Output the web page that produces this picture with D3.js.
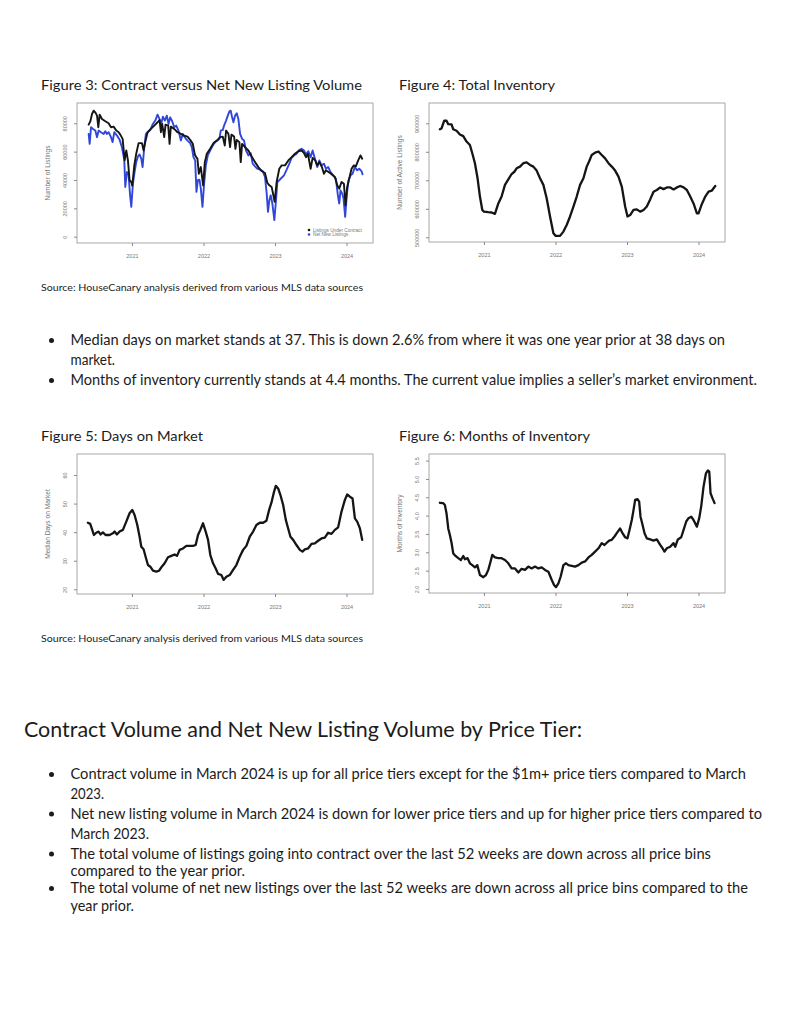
<!DOCTYPE html>
<html><head><meta charset="utf-8">
<script src="https://cdn.jsdelivr.net/npm/d3@7"></script>
<style>body{margin:0;background:#fff;} svg{display:block;}</style>
</head><body><svg id="page" width="800" height="1035"></svg>
<script>
// ---------------- DATA ----------------
const yearTicks = [2021, 2022, 2023, 2024];

const contractYears = [2020.395,2020.419,2020.442,2020.465,2020.488,2020.512,2020.530,2020.549,2020.581,2020.628,
2020.674,2020.707,2020.744,2020.781,2020.814,2020.837,2020.870,2020.898,2020.921,2020.944,
2020.967,2020.991,2021.005,2021.033,2021.060,2021.093,2021.140,2021.163,2021.186,2021.219,
2021.265,2021.312,2021.358,2021.386,2021.405,2021.423,2021.451,2021.470,2021.507,2021.526,
2021.544,2021.591,2021.637,2021.684,2021.730,2021.777,2021.814,2021.851,2021.879,2021.898,
2021.916,2021.935,2021.963,2021.995,2022.019,2022.047,2022.093,2022.140,2022.186,2022.233,
2022.270,2022.298,2022.316,2022.349,2022.372,2022.391,2022.428,2022.447,2022.465,2022.502,
2022.521,2022.540,2022.581,2022.628,2022.674,2022.721,2022.767,2022.814,2022.860,2022.893,
2022.921,2022.953,2022.977,2022.995,2023.023,2023.060,2023.093,2023.140,2023.186,2023.233,
2023.279,2023.326,2023.372,2023.405,2023.433,2023.460,2023.498,2023.526,2023.563,2023.591,
2023.619,2023.656,2023.684,2023.712,2023.749,2023.791,2023.837,2023.870,2023.898,2023.930,
2023.963,2023.986,2024.009,2024.037,2024.070,2024.102,2024.130,2024.163,2024.195,2024.219];
const contractVals = [79050,81400,86550,88900,87700,85400,77200,86100,83000,81400,
80000,77200,77650,74850,73700,72000,69000,53800,60800,53800,
39800,38600,36000,50300,58500,66000,66000,60800,66700,73700,
76000,78350,80700,82300,73700,79500,70200,79000,78350,65500,
77650,76000,73700,72500,71300,70600,68300,65500,58000,56100,
55000,44400,49100,36250,52600,58500,62000,66000,67800,70200,
70600,64300,74850,72500,63150,72000,70600,62000,68300,66700,
52600,65500,63150,60800,56600,52600,49100,46300,44900,37900,
36250,35100,29200,24600,38600,47950,50300,50300,53800,56100,
58500,60300,60800,58900,56100,58500,47950,55600,53800,50300,
52600,49100,44400,46800,45600,44000,42100,36250,33900,38600,
37400,22200,35100,40900,47950,50300,49600,53800,57300,55000];

const netNewYears = [2020.395,2020.409,2020.428,2020.456,2020.488,2020.512,2020.535,2020.567,2020.605,2020.628,
2020.651,2020.674,2020.707,2020.730,2020.753,2020.791,2020.828,2020.860,2020.893,2020.907,
2020.930,2020.953,2020.972,2020.991,2021.014,2021.037,2021.060,2021.084,2021.107,2021.130,
2021.149,2021.172,2021.195,2021.219,2021.256,2021.293,2021.326,2021.358,2021.386,2021.409,
2021.433,2021.460,2021.488,2021.512,2021.535,2021.563,2021.591,2021.619,2021.651,2021.684,
2021.712,2021.744,2021.777,2021.814,2021.837,2021.860,2021.884,2021.902,2021.921,2021.944,
2021.963,2021.986,2022.009,2022.033,2022.060,2022.093,2022.130,2022.163,2022.195,2022.223,
2022.242,2022.270,2022.288,2022.316,2022.340,2022.363,2022.381,2022.400,2022.419,2022.442,
2022.465,2022.488,2022.512,2022.540,2022.567,2022.595,2022.628,2022.660,2022.688,2022.721,
2022.753,2022.791,2022.828,2022.860,2022.884,2022.902,2022.921,2022.940,2022.963,2022.991,
2023.014,2023.033,2023.060,2023.093,2023.126,2023.163,2023.200,2023.233,2023.265,2023.302,
2023.340,2023.372,2023.405,2023.433,2023.465,2023.498,2023.526,2023.558,2023.591,2023.619,
2023.651,2023.684,2023.712,2023.744,2023.777,2023.814,2023.851,2023.879,2023.898,2023.916,
2023.940,2023.958,2023.981,2024.005,2024.028,2024.056,2024.084,2024.116,2024.149,2024.177,
2024.209,2024.223];
const netNewVals = [72500,65500,77200,76000,74850,70200,74850,73700,72500,74400,
72500,73700,70200,66700,73700,71300,68300,63150,54300,35100,
45600,44000,30400,21000,37400,45600,52600,56600,58000,55000,
49100,63150,72500,73700,75300,79500,81900,86100,83000,79500,
84700,81900,85400,79500,84200,81400,77200,78350,74850,67800,
72500,69700,67800,66000,63150,56100,53800,31600,39800,40200,
33900,21000,37400,50300,57300,60800,64300,66700,67800,69000,
74850,75300,78350,81900,85400,88400,88900,84200,80700,85400,
87000,83000,72500,69000,67800,60800,57300,58900,51500,49600,
47950,47250,46300,42100,30400,17500,25700,29200,23400,11700,
25700,38600,39800,41600,43300,47250,51500,55700,57300,58500,
61300,62000,60800,58000,60300,56100,60800,55000,49100,53800,
50300,51500,47950,49100,45600,43300,40900,29200,23400,32700,
30400,26900,14000,30400,39800,43300,44400,49100,46800,47950,
46300,44000];

const inventoryYears = [2020.384,2020.407,2020.445,2020.477,2020.501,2020.547,2020.571,2020.617,2020.664,2020.711,
2020.757,2020.804,2020.837,2020.874,2020.911,2020.944,2020.977,2021.000,2021.061,2021.107,
2021.154,2021.201,2021.247,2021.294,2021.341,2021.387,2021.425,2021.457,2021.504,2021.551,
2021.597,2021.644,2021.691,2021.737,2021.784,2021.831,2021.877,2021.924,2021.971,2022.003,
2022.064,2022.111,2022.157,2022.204,2022.251,2022.297,2022.344,2022.391,2022.437,2022.470,
2022.507,2022.554,2022.601,2022.647,2022.694,2022.741,2022.787,2022.834,2022.881,2022.927,
2022.974,2023.007,2023.044,2023.091,2023.137,2023.184,2023.231,2023.277,2023.324,2023.371,
2023.417,2023.464,2023.511,2023.557,2023.604,2023.651,2023.697,2023.744,2023.791,2023.837,
2023.884,2023.930,2023.977,2024.000,2024.047,2024.094,2024.140,2024.187,2024.234];
const inventoryVals = [879000,882000,909000,909000,897000,896000,879000,874000,861000,855000,
836000,824000,795000,760000,707000,643000,596000,590000,588000,587000,
582000,619000,643000,684000,703000,722000,730000,742000,748000,760000,
763000,754000,748000,734000,707000,684000,637000,573000,514000,505000,
505000,520000,543000,573000,608000,643000,684000,707000,748000,766000,
789000,797000,801000,789000,777000,760000,748000,734000,713000,678000,
608000,573000,578000,596000,598000,590000,596000,608000,633000,660000,
666000,675000,669000,675000,675000,668000,675000,680000,675000,666000,
643000,619000,584000,584000,617000,643000,660000,664000,680000];

const domYears = [2020.384,2020.417,2020.445,2020.468,2020.501,2020.533,2020.561,2020.594,2020.631,2020.687,
2020.734,2020.757,2020.790,2020.827,2020.874,2020.921,2020.967,2021.005,2021.037,2021.075,
2021.107,2021.131,2021.163,2021.191,2021.224,2021.257,2021.294,2021.341,2021.378,2021.411,
2021.457,2021.504,2021.551,2021.597,2021.630,2021.667,2021.714,2021.761,2021.807,2021.854,
2021.891,2021.924,2021.956,2021.994,2022.031,2022.064,2022.096,2022.134,2022.171,2022.204,
2022.250,2022.283,2022.320,2022.367,2022.414,2022.460,2022.507,2022.554,2022.600,2022.647,
2022.694,2022.740,2022.787,2022.834,2022.880,2022.918,2022.950,2022.983,2023.011,2023.044,
2023.076,2023.114,2023.151,2023.184,2023.216,2023.254,2023.300,2023.347,2023.384,2023.417,
2023.463,2023.510,2023.557,2023.603,2023.650,2023.697,2023.743,2023.790,2023.837,2023.883,
2023.930,2023.977,2024.009,2024.047,2024.084,2024.117,2024.149,2024.187,2024.219];
const domVals = [43.3,42.9,40.8,39.0,39.8,40.2,39.2,39.9,39.0,39.0,
39.6,40.2,39.2,40.2,40.8,43.7,46.6,47.8,46.0,42.5,
38.4,34.9,34.0,31.4,28.5,27.9,26.5,26.2,26.5,27.7,
29.1,31.2,31.7,32.2,31.7,33.8,34.3,35.2,35.2,35.2,
35.5,39.0,40.8,43.1,40.2,37.3,32.0,29.1,27.3,25.4,
25.0,23.3,24.4,25.0,26.8,28.5,31.4,33.8,35.2,38.4,
40.2,42.5,43.3,43.3,44.0,47.8,50.3,53.8,56.2,55.3,
53.0,49.5,44.3,41.3,38.4,37.3,35.5,33.8,33.2,34.0,
34.3,35.9,36.1,37.0,37.8,38.1,39.8,39.4,40.8,41.7,
47.2,51.3,53.2,52.4,51.8,44.8,43.7,41.3,37.3];

const moiYears = [2020.384,2020.431,2020.454,2020.477,2020.501,2020.524,2020.547,2020.571,2020.603,2020.641,
2020.678,2020.711,2020.734,2020.771,2020.804,2020.837,2020.874,2020.907,2020.944,2020.991,
2021.028,2021.061,2021.093,2021.117,2021.154,2021.201,2021.247,2021.294,2021.341,2021.387,
2021.434,2021.481,2021.527,2021.574,2021.621,2021.667,2021.714,2021.761,2021.807,2021.854,
2021.901,2021.947,2021.980,2022.008,2022.041,2022.073,2022.111,2022.148,2022.181,2022.227,
2022.274,2022.321,2022.367,2022.414,2022.461,2022.507,2022.554,2022.601,2022.647,2022.685,
2022.717,2022.750,2022.787,2022.825,2022.857,2022.904,2022.937,2022.974,2023.007,2023.035,
2023.067,2023.091,2023.114,2023.147,2023.170,2023.189,2023.217,2023.245,2023.277,2023.324,
2023.371,2023.417,2023.464,2023.497,2023.524,2023.557,2023.604,2023.651,2023.674,2023.711,
2023.758,2023.791,2023.828,2023.860,2023.898,2023.930,2023.977,2024.010,2024.038,2024.070,
2024.103,2024.131,2024.150,2024.168,2024.196,2024.224];
const moiVals = [4.35,4.34,4.29,4.06,3.65,3.47,3.26,2.97,2.90,2.84,
2.79,2.90,2.81,2.84,2.70,2.65,2.59,2.65,2.38,2.32,
2.38,2.52,2.75,2.93,2.86,2.84,2.84,2.79,2.70,2.56,
2.56,2.45,2.55,2.52,2.61,2.56,2.61,2.56,2.59,2.52,
2.47,2.25,2.11,2.05,2.15,2.34,2.65,2.70,2.65,2.63,
2.61,2.65,2.72,2.75,2.86,2.93,3.02,3.11,3.25,3.20,
3.26,3.32,3.34,3.43,3.52,3.65,3.52,3.41,3.38,3.61,
3.88,4.15,4.43,4.45,4.38,3.97,3.75,3.52,3.38,3.35,
3.32,3.35,3.20,3.11,3.02,3.11,3.15,3.25,3.15,3.35,
3.41,3.61,3.84,3.93,3.97,3.88,3.70,3.93,4.26,4.79,
5.15,5.23,5.20,4.61,4.47,4.34];

const listingTicks = [0, 20000, 40000, 60000, 80000];
const inventoryTicks = [500000, 600000, 700000, 800000, 900000];
const domTicks = [20, 30, 40, 50, 60];
const moiTicks = [2.0, 2.5, 3.0, 3.5, 4.0, 4.5, 5.0, 5.5];
const legendLabels = ["Listings Under Contract", "Net New Listings"];
const seriesColors = ["#151515", "#3047d8"];

// ---------------- DRAWING ----------------
const svg = d3.select("#page");
svg.append("rect").attr("width", 800).attr("height", 1035).attr("fill", "#fff");

const axisFont = "'Liberation Sans', Arial, sans-serif";
const docFont = "Lato, 'Noto Sans', sans-serif";
const xDomain = [2020.232, 2024.37];

function panel(box, yDomain, yTicks, yFmt, yTitle, series) {
  const g = svg.append("g");
  const x = d3.scaleLinear().domain(xDomain).range([box.x0, box.x1]);
  const y = d3.scaleLinear().domain(yDomain).range([box.y1, box.y0]);

  const line = d3.line().x(d => x(d[0])).y(d => y(d[1]));
  series.forEach(s => {
    const pts = s.xs.map((v, i) => [v, s.ys[i]]);
    g.append("path").datum(pts).attr("d", line)
      .attr("fill", "none").attr("stroke", s.color)
      .attr("stroke-width", s.width).attr("stroke-linejoin", "round").attr("stroke-linecap", "round");
  });

  g.append("rect").attr("x", box.x0).attr("y", box.y0)
    .attr("width", box.x1 - box.x0).attr("height", box.y1 - box.y0)
    .attr("fill", "none").attr("stroke", "#a8a8a8").attr("stroke-width", 1);

  const xa = g.append("g").attr("transform", `translate(0,${box.y1})`)
    .call(d3.axisBottom(x).tickValues(yearTicks).tickFormat(d3.format("d")).tickSize(3).tickSizeOuter(0));
  xa.select(".domain").remove();
  xa.selectAll("line").attr("stroke", "#8a8a8a");
  xa.selectAll("text").attr("y", 15).attr("dy", 0).attr("fill", "#777")
    .style("font-family", axisFont).style("font-size", "5.5px");

  const ya = g.append("g").attr("transform", `translate(${box.x0},0)`)
    .call(d3.axisLeft(y).tickValues(yTicks).tickFormat(yFmt).tickSize(3).tickSizeOuter(0));
  ya.select(".domain").remove();
  ya.selectAll("line").attr("stroke", "#8a8a8a");
  ya.selectAll("text").attr("x", 0).attr("y", 0).attr("dy", 0)
    .attr("text-anchor", "middle").attr("transform", "translate(-10,0) rotate(-90)")
    .attr("fill", "#777").style("font-family", axisFont).style("font-size", "5.5px");

  g.append("text").attr("transform", `translate(${box.x0 - 27},${(box.y0 + box.y1) / 2}) rotate(-90)`)
    .attr("text-anchor", "middle").attr("fill", "#777")
    .style("font-family", axisFont).style("font-size", "6.6px").text(yTitle);
  return {g, x, y};
}

const p3 = panel({x0: 77, x1: 373, y0: 103, y1: 243}, [-4450, 94300], listingTicks, d3.format("d"),
  "Number of Listings",
  [{xs: netNewYears, ys: netNewVals, color: seriesColors[1], width: 1.9},
   {xs: contractYears, ys: contractVals, color: seriesColors[0], width: 1.9}]);
// legend
const leg = p3.g.append("g");
legendLabels.forEach((lab, i) => {
  leg.append("circle").attr("cx", 309).attr("cy", 230 + i * 4.5).attr("r", 1.3).attr("fill", seriesColors[i]);
  leg.append("text").attr("x", 313).attr("y", 231.7 + i * 4.5).attr("fill", "#777")
    .style("font-family", axisFont).style("font-size", "4.7px").text(lab);
});

panel({x0: 429, x1: 725, y0: 103, y1: 242}, [483500, 971200], inventoryTicks, d3.format("d"),
  "Number of Active Listings",
  [{xs: inventoryYears, ys: inventoryVals, color: seriesColors[0], width: 2.3}]);

panel({x0: 77, x1: 373, y0: 454, y1: 594}, [18.36, 67.35], domTicks, d3.format("d"),
  "Median Days on Market",
  [{xs: domYears, ys: domVals, color: seriesColors[0], width: 2.3}]);

panel({x0: 429, x1: 725, y0: 454, y1: 593}, [1.89, 5.68], moiTicks, d3.format(".1f"),
  "Months of Inventory",
  [{xs: moiYears, ys: moiVals, color: seriesColors[0], width: 2.3}]);

// ---------------- DOCUMENT TEXT ----------------
function txt(x, y, s, size, endX, color) {
  const t = svg.append("text").attr("x", x).attr("y", y).attr("fill", color || "#1c1c1c")
    .style("font-family", docFont).style("font-size", size + "px").text(s);
  if (endX) t.attr("textLength", endX - x).attr("lengthAdjust", "spacingAndGlyphs");
  return t;
}
function dot(y) { svg.append("circle").attr("cx", 51.5).attr("cy", y).attr("r", 2.5).attr("fill", "#1c1c1c"); }

txt(41, 89.5, "Figure 3: Contract versus Net New Listing Volume", 13, 362);
txt(399, 89.5, "Figure 4: Total Inventory", 13, 555);
txt(41, 290.5, "Source: HouseCanary analysis derived from various MLS data sources", 9.5, 363);

dot(340.5);
txt(70.5, 345, "Median days on market stands at 37. This is down 2.6% from where it was one year prior at 38 days on", 15, 725);
txt(70.5, 364.5, "market.", 15, 115);
dot(380.5);
txt(70.5, 385, "Months of inventory currently stands at 4.4 months. The current value implies a seller\u2019s market environment.", 15, 757);

txt(41, 440.5, "Figure 5: Days on Market", 13, 203);
txt(399, 440.5, "Figure 6: Months of Inventory", 13, 590);
txt(41, 641.5, "Source: HouseCanary analysis derived from various MLS data sources", 9.5, 363);

txt(24, 737, "Contract Volume and Net New Listing Volume by Price Tier:", 21, 582);

dot(774.5);
txt(70.5, 779, "Contract volume in March 2024 is up for all price tiers except for the $1m+ price tiers compared to March", 15, 746);
txt(70.5, 798.5, "2023.", 15, 104);
dot(814);
txt(70.5, 818.5, "Net new listing volume in March 2024 is down for lower price tiers and up for higher price tiers compared to", 15, 762);
txt(70.5, 838.5, "March 2023.", 15, 149);
dot(854);
txt(70.5, 858.5, "The total volume of listings going into contract over the last 52 weeks are down across all price bins", 15, 711);
txt(70.5, 876, "compared to the year prior.", 15, 245);
dot(888.5);
txt(70.5, 893, "The total volume of net new listings over the last 52 weeks are down across all price bins compared to the", 15, 748);
txt(70.5, 910.5, "year prior.", 15, 134);
</script>
</body></html>
